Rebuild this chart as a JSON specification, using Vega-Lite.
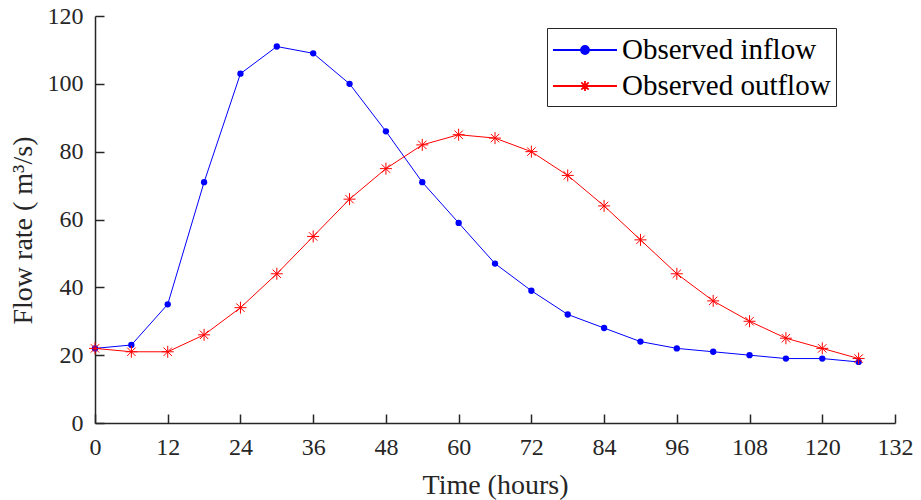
{
  "$schema": "https://vega.github.io/schema/vega-lite/v6.json",
  "width": 800,
  "height": 407,
  "autosize": {"type": "none"},
  "padding": {"left": 95, "top": 16, "right": 26, "bottom": 77},
  "background": "white",
  "config": {
    "view": {"stroke": null},
    "font": "Liberation Serif",
    "axis": {
      "labelFont": "Liberation Serif",
      "titleFont": "Liberation Serif",
      "labelFontSize": 24,
      "titleFontSize": 28,
      "labelColor": "#262626",
      "titleColor": "#262626",
      "domainColor": "#262626",
      "tickColor": "#262626",
      "domainWidth": 1.5,
      "tickWidth": 1.5,
      "grid": false,
      "labelFlush": false,
      "labelOverlap": false,
      "titleFontWeight": "normal"
    }
  },
  "data": {
    "values": [
      {"t": 0, "q": 22, "series": "Observed inflow"},
      {"t": 6, "q": 23, "series": "Observed inflow"},
      {"t": 12, "q": 35, "series": "Observed inflow"},
      {"t": 18, "q": 71, "series": "Observed inflow"},
      {"t": 24, "q": 103, "series": "Observed inflow"},
      {"t": 30, "q": 111, "series": "Observed inflow"},
      {"t": 36, "q": 109, "series": "Observed inflow"},
      {"t": 42, "q": 100, "series": "Observed inflow"},
      {"t": 48, "q": 86, "series": "Observed inflow"},
      {"t": 54, "q": 71, "series": "Observed inflow"},
      {"t": 60, "q": 59, "series": "Observed inflow"},
      {"t": 66, "q": 47, "series": "Observed inflow"},
      {"t": 72, "q": 39, "series": "Observed inflow"},
      {"t": 78, "q": 32, "series": "Observed inflow"},
      {"t": 84, "q": 28, "series": "Observed inflow"},
      {"t": 90, "q": 24, "series": "Observed inflow"},
      {"t": 96, "q": 22, "series": "Observed inflow"},
      {"t": 102, "q": 21, "series": "Observed inflow"},
      {"t": 108, "q": 20, "series": "Observed inflow"},
      {"t": 114, "q": 19, "series": "Observed inflow"},
      {"t": 120, "q": 19, "series": "Observed inflow"},
      {"t": 126, "q": 18, "series": "Observed inflow"},
      {"t": 0, "q": 22, "series": "Observed outflow"},
      {"t": 6, "q": 21, "series": "Observed outflow"},
      {"t": 12, "q": 21, "series": "Observed outflow"},
      {"t": 18, "q": 26, "series": "Observed outflow"},
      {"t": 24, "q": 34, "series": "Observed outflow"},
      {"t": 30, "q": 44, "series": "Observed outflow"},
      {"t": 36, "q": 55, "series": "Observed outflow"},
      {"t": 42, "q": 66, "series": "Observed outflow"},
      {"t": 48, "q": 75, "series": "Observed outflow"},
      {"t": 54, "q": 82, "series": "Observed outflow"},
      {"t": 60, "q": 85, "series": "Observed outflow"},
      {"t": 66, "q": 84, "series": "Observed outflow"},
      {"t": 72, "q": 80, "series": "Observed outflow"},
      {"t": 78, "q": 73, "series": "Observed outflow"},
      {"t": 84, "q": 64, "series": "Observed outflow"},
      {"t": 90, "q": 54, "series": "Observed outflow"},
      {"t": 96, "q": 44, "series": "Observed outflow"},
      {"t": 102, "q": 36, "series": "Observed outflow"},
      {"t": 108, "q": 30, "series": "Observed outflow"},
      {"t": 114, "q": 25, "series": "Observed outflow"},
      {"t": 120, "q": 22, "series": "Observed outflow"},
      {"t": 126, "q": 19, "series": "Observed outflow"}
    ]
  },
  "encoding": {
    "x": {
      "field": "t", "type": "quantitative",
      "scale": {"domain": [0, 132], "nice": false, "zero": false},
      "axis": {"values": [0,12,24,36,48,60,72,84,96,108,120,132], "tickSize": -9, "labelPadding": 21, "title": "Time (hours)", "titlePadding": 12}
    },
    "y": {
      "field": "q", "type": "quantitative",
      "scale": {"domain": [0, 120], "nice": false},
      "axis": {"values": [0,20,40,60,80,100,120], "tickSize": -9, "labelPadding": 21, "title": "Flow rate ( m³/s)", "titlePadding": 10, "titleY": 214}
    }
  },
  "layer": [
    {
      "mark": {"type": "line", "strokeWidth": 1},
      "encoding": {
        "color": {
          "field": "series", "type": "nominal",
          "scale": {"domain": ["Observed inflow", "Observed outflow"], "range": ["#0000FF", "#FF0000"]},
          "legend": {
            "title": null,
            "orient": "none",
            "legendX": 452,
            "legendY": 12,
            "strokeColor": "#262626",
            "fillColor": "white",
            "padding": 5,
            "labelFont": "Liberation Serif",
            "labelFontSize": 29,
            "labelColor": "black",
            "labelLimit": 400,
            "symbolSize": 1024,
            "symbolOffset": 16,
            "symbolStrokeWidth": 1.8,
            "labelOffset": 20,
            "rowPadding": 4,
            "encode": {
              "symbols": {
                "update": {
                  "shape": {"signal": "datum.value == 'Observed inflow' ? 'M-2,0H2M-0.25,0A0.25,0.25 0 1,1 0.25,0A0.25,0.25 0 1,1 -0.25,0Z' : 'M-2,0H2M0,-0.32V0.32M-0.32,0H0.32M-0.23,-0.23L0.23,0.23M-0.23,0.23L0.23,-0.23'"},
                  "fill": {"signal": "datum.value == 'Observed inflow' ? '#0000FF' : 'transparent'"}
                }
              }
            }
          }
        }
      }
    },
    {
      "transform": [{"filter": "datum.series == 'Observed inflow'"}],
      "mark": {"type": "point", "filled": true, "shape": "circle", "size": 40, "color": "#0000FF", "opacity": 1}
    },
    {
      "transform": [{"filter": "datum.series == 'Observed outflow'"}],
      "mark": {"type": "point", "filled": false, "shape": "M-1,0H1M0,-1V1M-0.7,-0.7L0.7,0.7M-0.7,0.7L0.7,-0.7", "size": 144, "stroke": "#FF0000", "strokeWidth": 1, "opacity": 1}
    }
  ]
}
